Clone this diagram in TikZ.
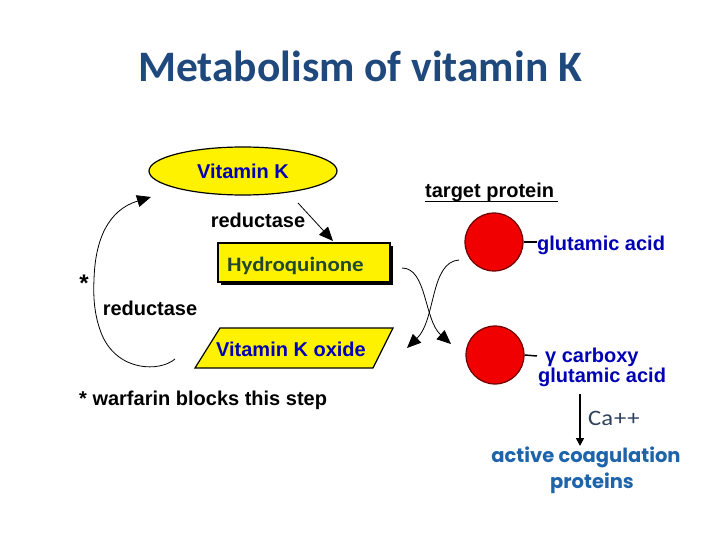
\documentclass[tikz,border=0pt]{standalone}
\usepackage{fontspec}
\setmainfont{Liberation Sans}
\newfontfamily\titlefont{Carlito}
\newfontfamily\hqfont[FakeStretch=1.12]{Carlito}
\newfontfamily\roundfont{Poppins}
\usetikzlibrary{arrows.meta,shadows,shapes.geometric}
\definecolor{titleblue}{RGB}{31,73,125}
\definecolor{pixblue}{RGB}{0,0,180}
\definecolor{hqgreen}{RGB}{35,72,45}
\definecolor{cagray}{RGB}{45,65,90}
\definecolor{coagblue}{RGB}{30,100,170}
\definecolor{circred}{RGB}{240,0,0}
\definecolor{circdark}{RGB}{110,0,0}
\begin{document}
\begin{tikzpicture}[x=1pt,y=-1pt,
  pix/.style={font=\fontsize{20}{24}\selectfont\bfseries, inner sep=0pt},
  pixb/.style={pix, text=pixblue},
  bigarrow/.style={-{Triangle[length=14pt,width=12pt]}, line width=0.8pt},
  circ/.style={circle, fill=circred, draw=circdark, line width=1.2pt, minimum size=58pt, inner sep=0pt},
  stub/.style={line width=1.5pt}]
\useasboundingbox (0,0) rectangle (720,540);

% title
\node[font=\titlefont\bfseries\fontsize{43.5}{50}\selectfont, text=titleblue, anchor=base, inner sep=0pt] (title) at (360,82) {Metabolism of vitamin K};

% Vitamin K ellipse
\node[ellipse, draw, line width=1.2pt, fill=yellow, minimum width=188pt, minimum height=48pt, inner sep=0pt] (vk) at (243,171) {};
\node[pixb, anchor=base] (vkt) at (243,179) {Vitamin K};

% reductase top
\node[pix, anchor=base] (red1) at (258,228) {reductase};

% Hydroquinone
\node[draw, line width=1.5pt, fill=yellow, minimum width=172pt, minimum height=39pt, inner sep=0pt,
  drop shadow={shadow xshift=2.5pt, shadow yshift=-2.5pt, fill=black, opacity=1}] (hq) at (304,262.5) {};
\node[font=\hqfont\bfseries\fontsize{20.5}{24}\selectfont, text=hqgreen, anchor=base west, inner sep=0pt] (hqt) at (227,271) {Hydroquinone};

% Vitamin K oxide parallelogram
\draw[fill=yellow, line width=1.2pt] (220,328) -- (393,328) -- (373,368) -- (195,368) -- cycle;
\node[pixb, anchor=base] (oxt) at (291,356) {Vitamin K oxide};

% left labels
\node[pix, anchor=base, font=\fontsize{24}{24}\selectfont\bfseries] (star) at (84,291) {*};
\node[pix, anchor=base] (red2) at (150,315) {reductase};
\node[pix, anchor=base west] (warf) at (79,405) {* warfarin blocks this step};

% arrow vk -> hq
\coordinate (a1s) at (298,203);
\coordinate (a1e) at (333,241);
\draw[bigarrow] (a1s) -- (a1e);

% left loop
\coordinate (ls) at (175,359);
\coordinate (le) at (151,197);
\draw[bigarrow] (ls) .. controls (160,372) and (118,372) .. (102,335)
  .. controls (95,318) and (93,300) .. (94,280)
  .. controls (95,240) and (108,210) .. (le);

% target protein
\node[pix, anchor=base west] (tp) at (425,198) {target protein};
\draw[line width=1pt] (tp.base west) ++(0,4) -- ++(133,0);

% circles
\node[circ] (c1) at (494,242) {};
\node[circ] (c2) at (495,355) {};
\node[pixb, anchor=base west] (ga1) at (537,250) {glutamic acid};
\draw[stub] (c1.east) -- (537,242);
\coordinate (c2s) at (537,356);
\draw[stub] (c2.east) -- (c2s);
\node[pixb, anchor=base west] (gc) at (545,362) {γ carboxy};
\node[pixb, anchor=base west] (ga2) at (538,382) {glutamic acid};

% crossing arrows
\coordinate (x1s) at (402,268);
\coordinate (x1e) at (451,344);
\coordinate (x2s) at (459,260);
\coordinate (x2e) at (407,348);
\draw[bigarrow] (x1s) .. controls (427,268) and (424,320) .. (x1e);
\draw[bigarrow] (x2s) .. controls (430,262) and (436,320) .. (x2e);

% Ca++ arrow
\coordinate (cas) at (580,394);
\coordinate (cae) at (580,446);
\draw[line width=1.6pt, -{Triangle[length=8pt,width=8pt]}] (cas) -- (cae);
\node[font=\hqfont\fontsize{22}{24}\selectfont, text=cagray, anchor=base west, inner sep=0pt] (ca) at (588,425) {Ca\kern1pt+\kern1pt+};

% active coagulation proteins
\node[font=\roundfont\bfseries\fontsize{19.5}{26}\selectfont, text=coagblue, anchor=base, inner sep=0pt] (ac1) at (586,462) {active coagulation};
\node[font=\roundfont\bfseries\fontsize{19.5}{26}\selectfont, text=coagblue, anchor=base, inner sep=0pt] (ac2) at (592,488) {proteins};
\end{tikzpicture}
\end{document}
